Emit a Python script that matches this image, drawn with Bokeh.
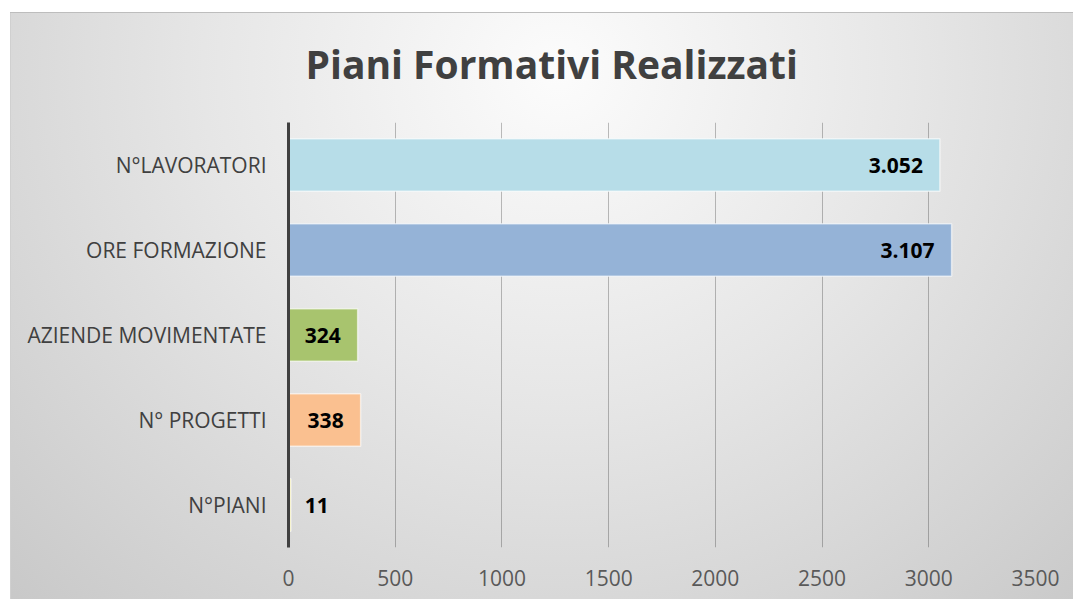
from bokeh.plotting import figure
from bokeh.models import FactorRange, FixedTicker, ColumnDataSource
from bokeh.core.properties import value
from bokeh.embed import file_html
from bokeh.resources import INLINE

# ---- data (top to bottom as shown) ----
categories = ["N°LAVORATORI", "ORE FORMAZIONE", "AZIENDE MOVIMENTATE", "N° PROGETTI", "N°PIANI"]
values = [3052, 3107, 324, 338, 11]
bar_colors = ["#b7dde8", "#95b3d7", "#a8c46e", "#fac090", "#f3ea8e"]
x_ticks = [0, 500, 1000, 1500, 2000, 2500, 3000, 3500]
title_text = "Piani Formativi Realizzati"

labels = [f"{v:,}".replace(",", ".") for v in values]
vmax = max(values)
small = [v < 0.05 * vmax for v in values]
offsets = [14 if s else -17 for s in small]
aligns = ["left" if s else "right" for s in small]

src = ColumnDataSource(dict(cat=categories, val=values, color=bar_colors,
                            label=labels, xoff=offsets, align=aligns))

FONT = "Open Sans"

p = figure(width=1073, height=599, output_backend="svg", toolbar_location=None,
           y_range=FactorRange(*reversed(categories)), x_range=(0, 3500),
           min_border_left=288, min_border_right=38, min_border_top=122, min_border_bottom=52)

p.styles = {
    "background": ("linear-gradient(#ffffff,#ffffff) 0 0 / 100% 12px no-repeat, "
                   "linear-gradient(#ffffff,#ffffff) 0 0 / 10px 100% no-repeat, "
                   "linear-gradient(#bdbdbd,#bdbdbd) 10px 12px / 100% 1px no-repeat, "
                   "linear-gradient(#d0d0d0,#d0d0d0) 10px 12px / 1px 100% no-repeat, "
                   "radial-gradient(ellipse farthest-corner at 52% 12%, #fcfcfc 0%, #e6e6e6 45%, #c8c8c8 100%)"),
}
p.border_fill_color = None
p.background_fill_color = None
p.outline_line_color = None

p.title.text = title_text
p.title.text_font = FONT
p.title.text_font_size = "39px"
p.title.text_font_style = "bold"
p.title.text_color = "#404040"
p.title.align = "left"
p.title.offset = 17
p.title.standoff = 66

p.hbar(y="cat", right="val", left=0, height=0.62, source=src, fill_color="color",
       line_color="#ffffff", line_alpha=0.6, line_width=1.5)

p.text(x="val", y="cat", text="label", source=src, x_offset="xoff", text_align="align",
       text_baseline="middle", text_font=value(FONT), text_font_size="21px",
       text_font_style="bold", text_color="#000000")

# x axis
p.xaxis.ticker = FixedTicker(ticks=x_ticks)
p.xaxis.axis_line_color = None
p.xaxis.major_tick_line_color = None
p.xaxis.minor_tick_line_color = None
p.xaxis.major_label_text_font = FONT
p.xaxis.major_label_text_font_size = "21px"
p.xaxis.major_label_text_color = "#595959"
p.xaxis.major_label_standoff = 16

# y axis
p.yaxis.axis_line_color = "#404040"
p.yaxis.axis_line_width = 3
p.yaxis.major_tick_line_color = None
p.yaxis.minor_tick_line_color = None
p.yaxis.major_label_text_font = FONT
p.yaxis.major_label_text_font_size = "21px"
p.yaxis.major_label_text_color = "#404040"
p.yaxis.major_label_standoff = 16

p.xgrid.grid_line_color = "#000000"
p.xgrid.grid_line_alpha = 0.25
p.xgrid.grid_line_width = 1
p.ygrid.grid_line_color = None

open("out.html", "w").write(file_html(p, INLINE))
